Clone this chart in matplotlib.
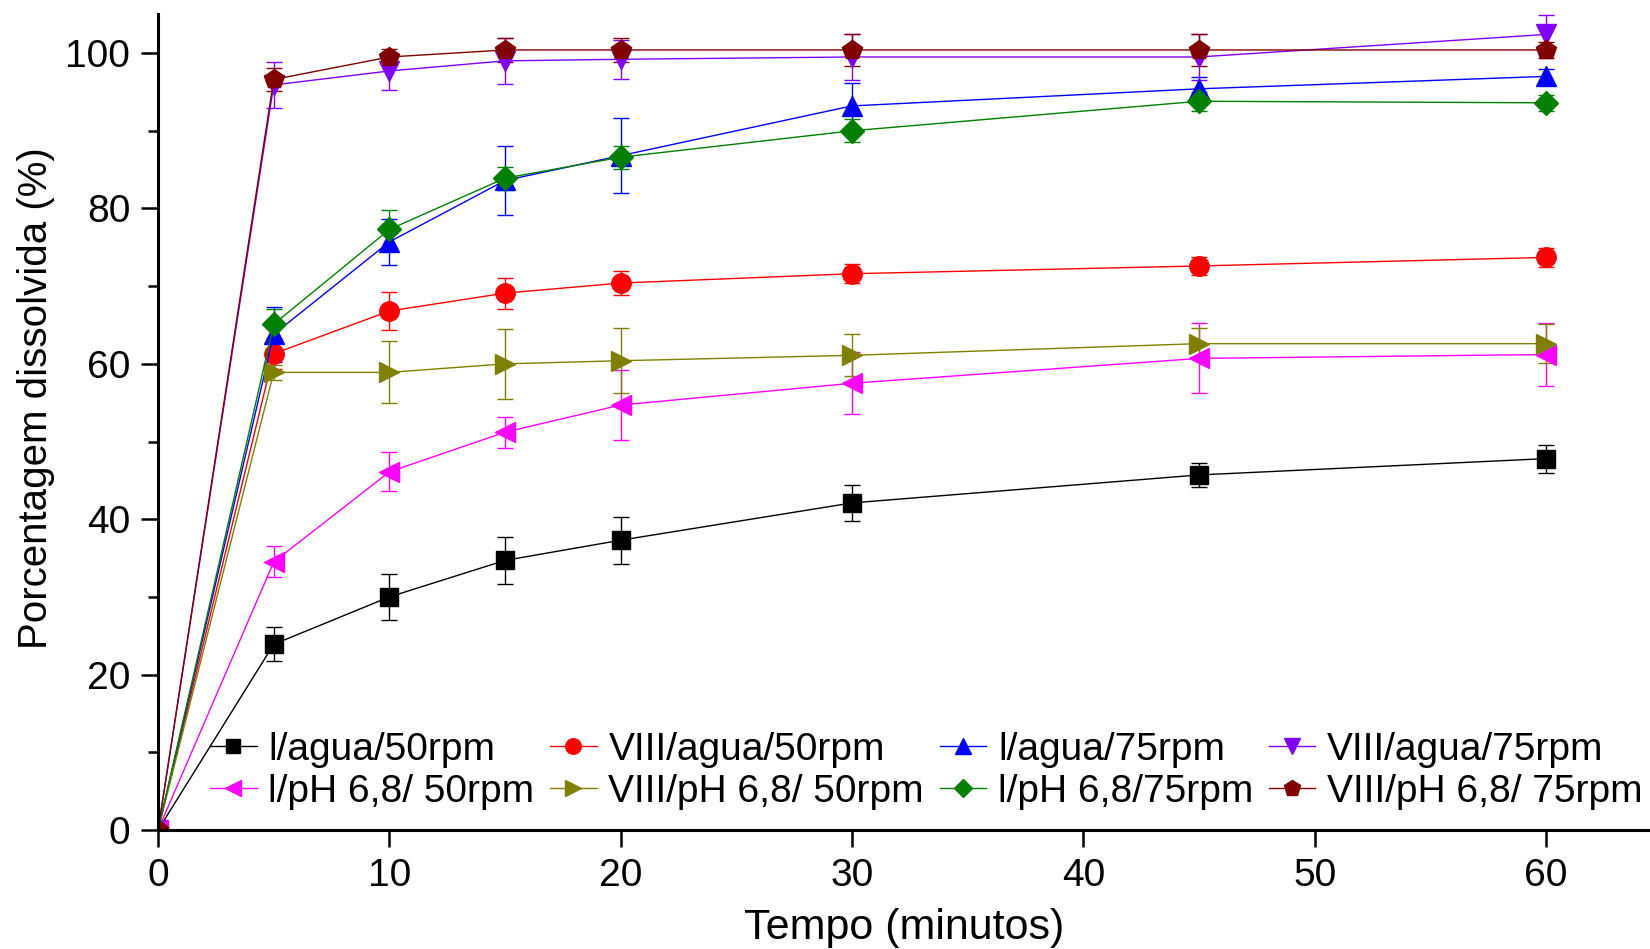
import matplotlib
matplotlib.use("Agg")
import matplotlib.pyplot as plt
from matplotlib.ticker import MultipleLocator

plt.rcParams['font.family'] = ['Liberation Sans', 'DejaVu Sans']

# tempo de coleta (minutos)
tempo = [0, 5, 10, 15, 20, 30, 45, 60]

# porcentagem dissolvida, media e desvio
i_agua_50 = [0, 23.9, 30.0, 34.7, 37.3, 42.1, 45.7, 47.8]
i_agua_50_err = [0, 2.2, 3.0, 3.0, 3.0, 2.3, 1.5, 1.8]

viii_agua_50 = [0, 61.3, 66.8, 69.1, 70.4, 71.6, 72.6, 73.7]
viii_agua_50_err = [0, 2.0, 2.5, 2.0, 1.5, 1.2, 1.2, 1.2]

i_agua_75 = [0, 63.8, 75.7, 83.6, 86.8, 93.2, 95.4, 97.0]
i_agua_75_err = [0, 3.5, 3.0, 4.5, 4.8, 3.0, 1.5, 1.0]

viii_agua_75 = [0, 95.9, 97.7, 99.0, 99.2, 99.5, 99.5, 102.4]
viii_agua_75_err = [0, 3.0, 2.5, 3.0, 2.5, 3.0, 3.0, 2.5]

i_ph_50 = [0, 34.5, 46.1, 51.2, 54.7, 57.5, 60.7, 61.2]
i_ph_50_err = [0, 2.0, 2.5, 2.0, 4.5, 4.0, 4.5, 4.0]

viii_ph_50 = [0, 58.9, 58.9, 60.0, 60.4, 61.1, 62.6, 62.6]
viii_ph_50_err = [0, 1.0, 4.0, 4.5, 4.2, 2.7, 2.0, 2.5]

i_ph_75 = [0, 65.1, 77.3, 83.9, 86.6, 90.0, 93.8, 93.6]
i_ph_75_err = [0, 2.0, 2.5, 1.5, 1.5, 1.5, 1.2, 1.0]

viii_ph_75 = [0, 96.6, 99.5, 100.4, 100.4, 100.4, 100.4, 100.4]
viii_ph_75_err = [0, 1.5, 1.0, 1.5, 1.5, 2.0, 2.0, 1.0]

series = [
    ("l/agua/50rpm", i_agua_50, i_agua_50_err, "#000000", "s", 13),
    ("VIII/agua/50rpm", viii_agua_50, viii_agua_50_err, "#FF0000", "o", 14),
    ("l/agua/75rpm", i_agua_75, i_agua_75_err, "#0000FF", "^", 14),
    ("VIII/agua/75rpm", viii_agua_75, viii_agua_75_err, "#8000FF", "v", 14),
    ("l/pH 6,8/ 50rpm", i_ph_50, i_ph_50_err, "#FF00FF", "<", 14),
    ("VIII/pH 6,8/ 50rpm", viii_ph_50, viii_ph_50_err, "#808000", ">", 14),
    ("l/pH 6,8/75rpm", i_ph_75, i_ph_75_err, "#008000", "D", 12),
    ("VIII/pH 6,8/ 75rpm", viii_ph_75, viii_ph_75_err, "#800000", "p", 15),
]

fig = plt.figure(figsize=(16.5, 9.49), dpi=100)
ax = fig.add_axes([0.0958, 0.1254, 0.9042, 0.8596])

handles = []
for label, vals, errs, color, mk, ms in series:
    eb = ax.errorbar(tempo, vals, yerr=errs, color=color, marker=mk, markersize=ms,
                     linewidth=1.0, elinewidth=1.0, capsize=6, capthick=1.0,
                     label=label)
    handles.append(eb[0])

ax.set_xlim(0, 64.5)
ax.set_ylim(0, 105.0)
ax.xaxis.set_major_locator(MultipleLocator(10))
ax.yaxis.set_major_locator(MultipleLocator(20))
ax.yaxis.set_minor_locator(MultipleLocator(10))

ax.spines['top'].set_visible(False)
ax.spines['right'].set_visible(False)
ax.spines['left'].set_linewidth(2.2)
ax.spines['bottom'].set_linewidth(2.2)
ax.tick_params(axis='both', which='major', direction='out', length=12, width=1.8,
               labelsize=28, pad=8)
ax.tick_params(axis='y', which='minor', direction='out', length=7, width=1.8)

ax.set_xlabel("Tempo (minutos)", fontsize=31, labelpad=10)
ax.set_ylabel("Porcentagem dissolvida (%)", fontsize=29)
ax.yaxis.set_label_coords(-0.069, 0.53)

# legenda preenchida por linhas (4 colunas x 2 linhas)
order = [0, 4, 1, 5, 2, 6, 3, 7]
ax.legend([handles[i] for i in order], [series[i][0] for i in order],
          loc='center', bbox_to_anchor=(0.515, 0.0725), ncol=4, frameon=False,
          fontsize=28, handlelength=1.2, handletextpad=0.3, columnspacing=0.4,
          labelspacing=0.15, borderpad=0, borderaxespad=0, markerscale=0.8)

fig.savefig("out.png", dpi=100)
